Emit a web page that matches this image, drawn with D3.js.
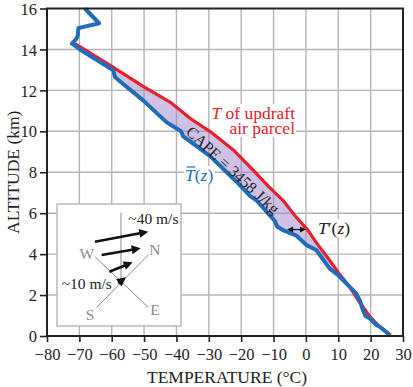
<!DOCTYPE html>
<html>
<head>
<meta charset="utf-8">
<script src="https://cdn.jsdelivr.net/npm/d3@7"></script>
<style>
  body { margin: 0; background: #fff; }
  svg { display: block; font-family: "Liberation Serif", "DejaVu Serif", serif; }
</style>
</head>
<body>
<script>
const width = 413;
const height = 387;

// environment temperature profile T(z): [temperature °C, altitude km]
const envProfile = [
    [-68.3, 16.0], [-63.9, 15.28], [-70.3, 15.04], [-70.5, 14.68], [-71.0, 14.5],
    [-72.3, 14.28], [-69.8, 14.0], [-59.5, 12.98], [-59.0, 12.65], [-57.5, 12.45],
    [-50.3, 11.51], [-43.1, 10.45], [-38.6, 10.0], [-37.9, 9.75], [-29.7, 8.8],
    [-21.5, 7.55], [-17.3, 6.85], [-15.3, 6.63], [-9.6, 5.62], [-8.9, 5.35],
    [-7.1, 5.17], [-2.9, 4.9], [0.2, 4.44], [3.2, 4.2], [7.3, 3.3], [9.9, 2.98],
    [14.0, 2.33], [15.5, 2.08], [16.6, 1.76], [17.6, 1.27], [18.4, 0.98],
    [19.7, 0.86], [21.8, 0.54], [22.8, 0.45], [25.9, 0.05]
];

// updraft parcel temperature
const parcelProfile = [
    [-71.4, 14.28], [-60.2, 13.2], [-50.3, 12.2], [-42.0, 11.43], [-35.5, 10.6],
    [-29.7, 10.0], [-22.5, 9.1], [-16.3, 8.1], [-11.5, 7.3], [-7.1, 6.63],
    [-3.5, 5.9], [0.6, 5.17], [3.5, 4.5], [7.3, 3.7], [10.5, 3.0], [13.5, 2.4],
    [16.1, 1.76], [19.5, 1.0], [22.5, 0.5], [26.2, 0.05]
];

const tempTicks = d3.range(-80, 31, 10);
const altTicks = d3.range(0, 17, 2);

// T'(z) marker: altitude and the two temperatures it spans
const tPrimeAlt = 5.2;
const tPrimeSpan = [-5.8, 0.0];

// inset (0..100 local units): compass and wind arrows
const compassLines = [
    [[32.0, 84.7], [73.6, 41.8]],   // S - N
    [[30.6, 43.2], [73.6, 84.7]],   // W - E
    [[51.6, 7.1], [51.6, 63.5]]     // vertical
];
const compassLabels = [
    ["W", 24, 40.4], ["N", 79, 37.7], ["S", 26.6, 91], ["E", 79, 86.9]
];
const windArrows = [
    [[30.6, 30.9], [73.6, 22.7]],
    [[36.0, 41.8], [67.5, 36.3]],
    [[42.2, 55.5], [61.0, 47.8]],
    [[49.4, 65.0], [55.6, 60.1]]
];

const margin = {top: 8.5, right: 10, bottom: 51, left: 47};

const x = d3.scaleLinear().domain([-80, 30]).range([margin.left, width - margin.right]);
const y = d3.scaleLinear().domain([0, 16]).range([height - margin.bottom, margin.top]);

const svg = d3.select("body").append("svg")
    .attr("width", width)
    .attr("height", height);

// grid
svg.append("g").selectAll("line")
    .data(tempTicks.slice(1, -1))
    .enter().append("line")
    .attr("x1", d => x(d)).attr("x2", d => x(d))
    .attr("y1", y(0)).attr("y2", y(16))
    .attr("stroke", "#b4b4b4").attr("stroke-width", 1.4);
svg.append("g").selectAll("line")
    .data(altTicks.slice(1, -1))
    .enter().append("line")
    .attr("y1", d => y(d)).attr("y2", d => y(d))
    .attr("x1", x(-80)).attr("x2", x(30))
    .attr("stroke", "#b4b4b4").attr("stroke-width", 1.4);

// axes
const fmt = d => d < 0 ? "\u2212" + Math.abs(d) : String(d);
const xAxis = svg.append("g")
    .attr("transform", `translate(0,${y(0)})`)
    .call(d3.axisBottom(x).tickValues(tempTicks).tickSize(6).tickSizeOuter(0).tickFormat(fmt));
const yAxis = svg.append("g")
    .attr("transform", `translate(${x(-80)},0)`)
    .call(d3.axisLeft(y).tickValues(altTicks).tickSize(7).tickSizeOuter(0).tickFormat(fmt));
[xAxis, yAxis].forEach(a => {
    a.select(".domain").remove();
    a.selectAll("line").attr("stroke", "#222").attr("stroke-width", 1.6);
    a.selectAll("text")
        .attr("font-family", "Liberation Serif")
        .attr("font-size", 16.5)
        .attr("fill", "#222");
});
xAxis.selectAll("text").attr("dy", "0.9em");
yAxis.selectAll("text").attr("x", -10).attr("dy", "0.34em");

svg.append("text")
    .attr("x", (x(-80) + x(30)) / 2 + 2)
    .attr("y", 383)
    .attr("text-anchor", "middle")
    .attr("font-size", 17.5)
    .attr("fill", "#222")
    .text("TEMPERATURE (\u00b0C)");
svg.append("text")
    .attr("transform", `translate(19,${(y(0) + y(16)) / 2}) rotate(-90)`)
    .attr("text-anchor", "middle")
    .attr("font-size", 17.5)
    .attr("fill", "#222")
    .text("ALTITUDE (km)");

// labels with white background (they hide the grid)
const labels = svg.append("g");
const bgLayer = labels.append("g");
const textLayer = labels.append("g");

function addLabel(lines, xPos, yPos, color, anchor) {
    const t = textLayer.append("text")
        .attr("x", xPos).attr("y", yPos)
        .attr("text-anchor", anchor || "start")
        .attr("font-size", 17.5)
        .attr("fill", color);
    lines.forEach((parts, i) => {
        parts.forEach((p, j) => {
            const ts = t.append("tspan").attr("font-style", p[1] ? "italic" : "normal").text(p[0]);
            if (i > 0 && j === 0) ts.attr("x", xPos).attr("dy", 15);
        });
    });
    const b = t.node().getBBox();
    bgLayer.append("rect")
        .attr("x", b.x - 1).attr("y", b.y + 1)
        .attr("width", b.width + 2).attr("height", b.height - 2)
        .attr("fill", "#fff");
    return t;
}

addLabel([[["T", true], [" of updraft", false]], [["air parcel", false]]], 295, 119, "#e8202a", "end");
const tBar = addLabel([[["T", true], ["(", false], ["z", true], [")", false]]], 185, 181, "#1f6cbc");
addLabel([[["T", true], ["\u2032(", false], ["z", true], [")", false]]], 318, 234, "#222");

// overline on T of T(z)
const ext = tBar.node().getExtentOfChar(0);
svg.append("line")
    .attr("x1", ext.x + 1.5).attr("x2", ext.x + ext.width + 0.5)
    .attr("y1", ext.y + 2).attr("y2", ext.y + 2)
    .attr("stroke", "#1f6cbc").attr("stroke-width", 1.2);

// CAPE region
const line = d3.line().x(d => x(d[0])).y(d => y(d[1]));
const envBelow = envProfile.filter(d => d[1] <= 14.28);
svg.append("path")
    .attr("d", line(parcelProfile.concat(envBelow.slice().reverse())) + "Z")
    .attr("fill", "#9d83c9")
    .attr("fill-opacity", 0.5)
    .attr("stroke", "none");

svg.append("path")
    .attr("d", line(parcelProfile))
    .attr("fill", "none")
    .attr("stroke", "#e8202a")
    .attr("stroke-width", 3.2)
    .attr("stroke-linejoin", "round");

svg.append("path")
    .attr("d", line(envProfile))
    .attr("fill", "none")
    .attr("stroke", "#1f6cbc")
    .attr("stroke-width", 4)
    .attr("stroke-linejoin", "round");

svg.append("text")
    .attr("transform", `translate(233,170) rotate(43)`)
    .attr("text-anchor", "middle")
    .attr("dy", "0.35em")
    .attr("font-size", 16)
    .attr("fill", "#222")
    .text("CAPE = 3458 J/kg");

// arrow helper
function arrow(g, p0, p1, opts) {
    const dx = p1[0] - p0[0], dy = p1[1] - p0[1];
    const len = Math.sqrt(dx * dx + dy * dy);
    const ux = dx / len, uy = dy / len;
    const hl = opts.head, hw = opts.headW;
    g.append("line")
        .attr("x1", p0[0]).attr("y1", p0[1])
        .attr("x2", p1[0] - ux * hl * 0.8).attr("y2", p1[1] - uy * hl * 0.8)
        .attr("stroke", "#111").attr("stroke-width", opts.width);
    const bx = p1[0] - ux * hl, by = p1[1] - uy * hl;
    g.append("path")
        .attr("d", `M${p1[0]},${p1[1]}L${bx - uy * hw},${by + ux * hw}L${bx + uy * hw},${by - ux * hw}Z`)
        .attr("fill", "#111");
}

// T'(z) double arrow
const tp = svg.append("g");
const ta = [x(tPrimeSpan[0]), y(tPrimeAlt)], tb = [x(tPrimeSpan[1]), y(tPrimeAlt)];
const mid = [(ta[0] + tb[0]) / 2, ta[1]];
arrow(tp, mid, ta, {head: 6, headW: 3, width: 1.3});
arrow(tp, mid, tb, {head: 6, headW: 3, width: 1.3});

// inset
const ix = d3.scaleLinear().domain([0, 100]).range([57, 181]);
const iy = d3.scaleLinear().domain([0, 100]).range([204, 326]);
const inset = svg.append("g");
inset.append("rect")
    .attr("x", ix(0)).attr("y", iy(0))
    .attr("width", ix(100) - ix(0)).attr("height", iy(100) - iy(0))
    .attr("fill", "#fff")
    .attr("stroke", "#b9b9b9")
    .attr("stroke-width", 1.5);
inset.selectAll(".cl")
    .data(compassLines)
    .enter().append("line")
    .attr("x1", d => ix(d[0][0])).attr("y1", d => iy(d[0][1]))
    .attr("x2", d => ix(d[1][0])).attr("y2", d => iy(d[1][1]))
    .attr("stroke", "#8a8a8a").attr("stroke-width", 1);
inset.selectAll(".lab")
    .data(compassLabels)
    .enter().append("text")
    .attr("x", d => ix(d[1])).attr("y", d => iy(d[2]))
    .attr("text-anchor", "middle")
    .attr("dy", "0.35em")
    .attr("font-size", 15.5)
    .attr("fill", "#8a8a8a")
    .text(d => d[0]);
windArrows.forEach(a => {
    arrow(inset, [ix(a[0][0]), iy(a[0][1])], [ix(a[1][0]), iy(a[1][1])], {head: 9, headW: 4.5, width: 2.6});
});
inset.append("text")
    .attr("x", ix(57.5)).attr("y", iy(16.4))
    .attr("font-size", 15.5).attr("fill", "#222")
    .text("~40 m/s");
inset.append("text")
    .attr("x", ix(3.8)).attr("y", iy(69.7))
    .attr("font-size", 15.5).attr("fill", "#222")
    .text("~10 m/s");

// frame
svg.append("rect")
    .attr("x", x(-80)).attr("y", y(16))
    .attr("width", x(30) - x(-80)).attr("height", y(0) - y(16))
    .attr("fill", "none")
    .attr("stroke", "#222")
    .attr("stroke-width", 2);
</script>
</body>
</html>
